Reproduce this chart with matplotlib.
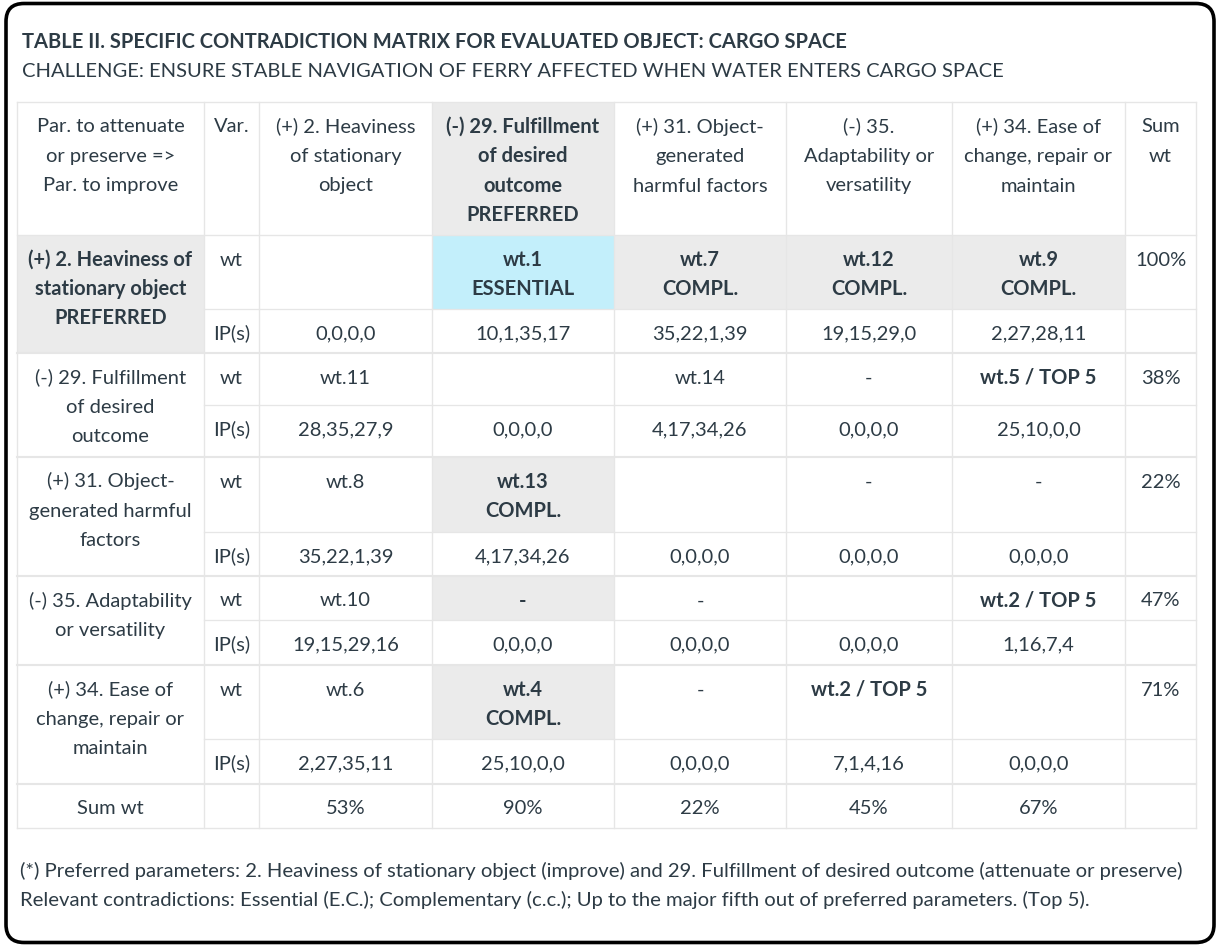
import matplotlib
matplotlib.use("Agg")
import matplotlib.pyplot as plt
from matplotlib.patches import Rectangle, FancyBboxPatch

plt.rcParams['font.family'] = ['Lato', 'DejaVu Sans']

#%% Data
title = "TABLE II. SPECIFIC CONTRADICTION MATRIX FOR EVALUATED OBJECT: CARGO SPACE"
subtitle = "CHALLENGE: ENSURE STABLE NAVIGATION OF FERRY AFFECTED WHEN WATER ENTERS CARGO SPACE"

col_headers = [
    "Par. to attenuate\nor preserve =>\nPar. to improve",
    "Var.",
    "(+) 2. Heaviness\nof stationary\nobject",
    "(-) 29. Fulfillment\nof desired\noutcome\nPREFERRED",
    "(+) 31. Object-\ngenerated\nharmful factors",
    "(-) 35.\nAdaptability or\nversatility",
    "(+) 34. Ease of\nchange, repair or\nmaintain",
    "Sum\nwt",
]

row_labels = [
    "(+) 2. Heaviness of\nstationary object\nPREFERRED",
    "(-) 29. Fulfillment\nof desired\noutcome",
    "(+) 31. Object-\ngenerated harmful\nfactors",
    "(-) 35. Adaptability\nor versatility",
    "(+) 34. Ease of\nchange, repair or\nmaintain",
]

wt_cells = [
    ["", "wt.1\nESSENTIAL", "wt.7\nCOMPL.", "wt.12\nCOMPL.", "wt.9\nCOMPL."],
    ["wt.11", "", "wt.14", "-", "wt.5 / TOP 5"],
    ["wt.8", "wt.13\nCOMPL.", "", "-", "-"],
    ["wt.10", "-", "-", "", "wt.2 / TOP 5"],
    ["wt.6", "wt.4\nCOMPL.", "-", "wt.2 / TOP 5", ""],
]

ip_cells = [
    ["0,0,0,0", "10,1,35,17", "35,22,1,39", "19,15,29,0", "2,27,28,11"],
    ["28,35,27,9", "0,0,0,0", "4,17,34,26", "0,0,0,0", "25,10,0,0"],
    ["35,22,1,39", "4,17,34,26", "0,0,0,0", "0,0,0,0", "0,0,0,0"],
    ["19,15,29,16", "0,0,0,0", "0,0,0,0", "0,0,0,0", "1,16,7,4"],
    ["2,27,35,11", "25,10,0,0", "0,0,0,0", "7,1,4,16", "0,0,0,0"],
]

row_sum = ["100%", "38%", "22%", "47%", "71%"]
col_sum = ["53%", "90%", "22%", "45%", "67%"]

footnotes = [
    "(*) Preferred parameters: 2. Heaviness of stationary object (improve) and 29. Fulfillment of desired outcome (attenuate or preserve)",
    "Relevant contradictions: Essential (E.C.); Complementary (c.c.); Up to the major fifth out of preferred parameters. (Top 5).",
]

# styling of wt cells: (row, col) -> fill / bold
fill_blue = [(0, 1)]
fill_gray = [(0, 2), (0, 3), (0, 4), (2, 1), (3, 1), (4, 1)]
bold_wt = [(0, 1), (0, 2), (0, 3), (0, 4), (1, 4), (2, 1), (3, 1), (3, 4), (4, 1), (4, 3)]

#%% Layout (pixels)
W, H = 1219, 950
col_x = [17, 204, 259, 432, 614, 786, 952, 1125, 1196]
y_head = (102, 235)
rows_y = [(235, 309, 353), (353, 405, 457), (457, 532, 576), (576, 620, 665), (665, 739, 784)]
y_sum = (784, 828)

TXT = '#2d3b45'
GRAY = '#ebebeb'
BLUE = '#c3effb'
GRID = '#e6e6e6'
FS = 14.5
LS = 29.5

fig = plt.figure(figsize=(W / 100, H / 100), dpi=100)
ax = fig.add_axes([0, 0, 1, 1])
ax.set_xlim(0, W)
ax.set_ylim(H, 0)
ax.axis('off')

ax.add_patch(FancyBboxPatch((6, 3.5), 1208, 939, boxstyle="round,pad=0,rounding_size=18",
                            lw=2.6, ec='black', fc='white', zorder=0))


def cell_text(x0, x1, top, s, bold=False):
    for i, line in enumerate(s.split('\n')):
        ax.text((x0 + x1) / 2, top + 30.5 + i * LS, line, ha='center', va='baseline',
                fontsize=FS, color=TXT, fontweight='bold' if bold else 'normal', zorder=3)


def fill(x0, x1, y0, y1, c):
    ax.add_patch(Rectangle((x0, y0), x1 - x0, y1 - y0, fc=c, ec='none', zorder=1))


# title
ax.text(22, 48, title, fontsize=14.5, fontweight='bold', color=TXT, va='baseline')
ax.text(22, 77, subtitle, fontsize=14.5, color=TXT, va='baseline')

# header
fill(col_x[3], col_x[4], *y_head, GRAY)
for j, h in enumerate(col_headers):
    cell_text(col_x[j], col_x[j + 1], y_head[0], h, bold=(j == 3))

# body rows
for i, (t, m, b) in enumerate(rows_y):
    if i == 0:
        fill(col_x[0], col_x[1], t, b, GRAY)
    cell_text(col_x[0], col_x[1], t, row_labels[i], bold=(i == 0))
    cell_text(col_x[1], col_x[2], t, "wt")
    cell_text(col_x[1], col_x[2], m, "IP(s)")
    for j in range(5):
        x0, x1 = col_x[j + 2], col_x[j + 3]
        if (i, j) in fill_blue:
            fill(x0, x1, t, m, BLUE)
        elif (i, j) in fill_gray:
            fill(x0, x1, t, m, GRAY)
        cell_text(x0, x1, t, wt_cells[i][j], bold=(i, j) in bold_wt)
        cell_text(x0, x1, m, ip_cells[i][j])
    cell_text(col_x[7], col_x[8], t, row_sum[i])
    # grid lines
    ax.plot([col_x[1], col_x[8]], [m, m], color=GRID, lw=0.9, zorder=2)
    ax.plot([col_x[0], col_x[8]], [b, b], color=GRID, lw=1.5, zorder=2)

# sum row
cell_text(col_x[0], col_x[1], y_sum[0], "Sum wt")
for j in range(5):
    cell_text(col_x[j + 2], col_x[j + 3], y_sum[0], col_sum[j])

# remaining grid
ax.plot([col_x[0], col_x[8]], [y_head[0], y_head[0]], color=GRID, lw=1.0, zorder=2)
ax.plot([col_x[0], col_x[8]], [y_head[1], y_head[1]], color=GRID, lw=1.0, zorder=2)
ax.plot([col_x[0], col_x[8]], [y_sum[1], y_sum[1]], color=GRID, lw=1.0, zorder=2)
for x in col_x:
    ax.plot([x, x], [y_head[0], y_sum[1]], color=GRID, lw=1.0, zorder=2)

# footnotes
ax.text(20, 877, footnotes[0], fontsize=14.6, color=TXT, va='baseline')
ax.text(20, 906, footnotes[1], fontsize=14.6, color=TXT, va='baseline')

fig.savefig('out.png', dpi=100)
